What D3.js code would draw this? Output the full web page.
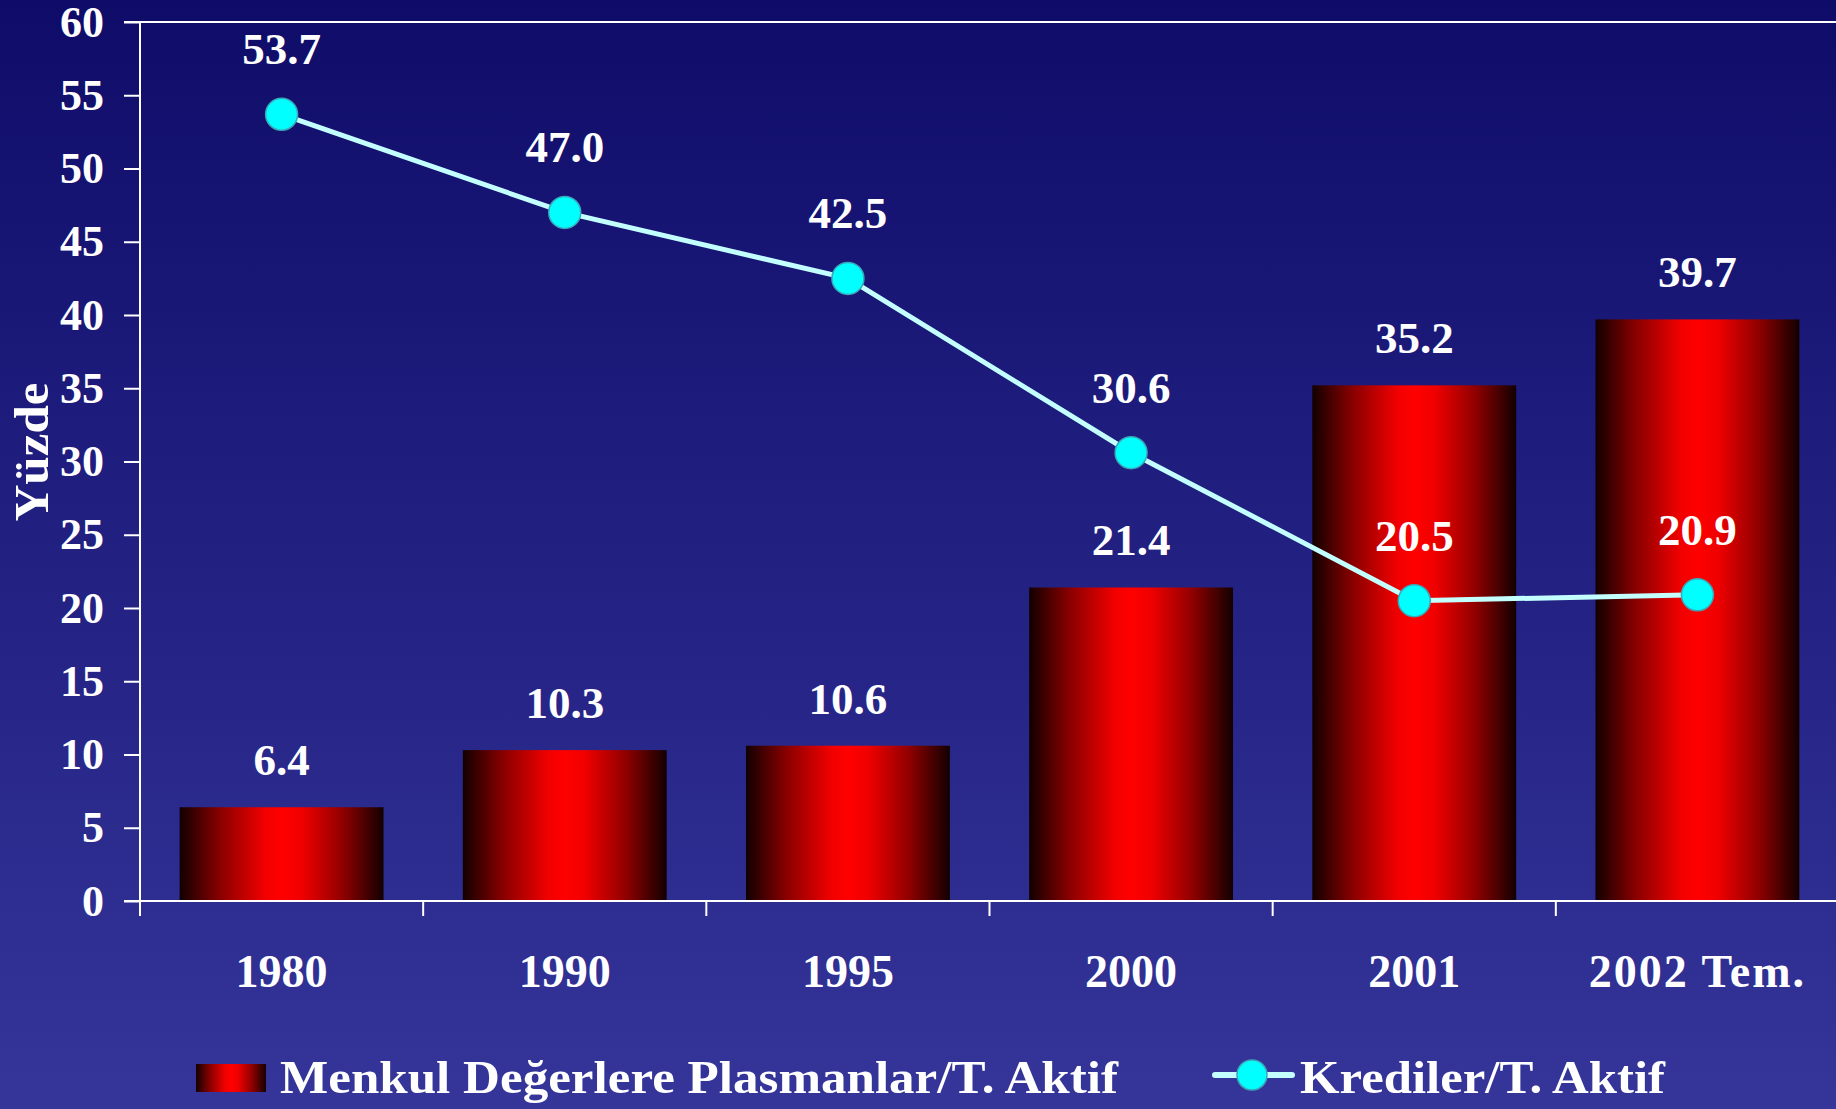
<!DOCTYPE html>
<html>
<head>
<meta charset="utf-8">
<script src="https://cdn.jsdelivr.net/npm/d3@7"></script>
<style>
  html, body { margin: 0; padding: 0; background: #22227f; }
  svg { display: block; }
  text { font-family: "Liberation Serif", "DejaVu Serif", serif; font-weight: bold; fill: #fff; }
</style>
</head>
<body>
<svg id="chart" width="1836" height="1109"></svg>
<script>
const categories = ['1980', '1990', '1995', '2000', '2001', '2002 Tem.'];
const menkulValues = [6.4, 10.3, 10.6, 21.4, 35.2, 39.7];
const kredilerValues = [53.7, 47.0, 42.5, 30.6, 20.5, 20.9];
const yTicks = [0, 5, 10, 15, 20, 25, 30, 35, 40, 45, 50, 55, 60];
const seriesNames = ['Menkul Değerlere Plasmanlar/T. Aktif', 'Krediler/T. Aktif'];
const yAxisLabel = 'Yüzde';

const svg = d3.select('#chart');
const width = +svg.attr('width');
const height = +svg.attr('height');
const margin = {top: 22, right: -3, left: 140, bottom: 208};
const innerBottom = height - margin.bottom;   // y of zero line

const defs = svg.append('defs');

// background fades from dark navy to lighter blue
const bg = defs.append('linearGradient').attr('id', 'bg')
    .attr('x1', 0).attr('y1', 0).attr('x2', 0).attr('y2', 1);
bg.append('stop').attr('offset', 0).attr('stop-color', '#0f0c69');
bg.append('stop').attr('offset', 1).attr('stop-color', '#35359a');

// cylinder-ish shading for the bars
const barGrad = defs.append('linearGradient').attr('id', 'barGrad')
    .attr('x1', 0).attr('y1', 0).attr('x2', 1).attr('y2', 0);
[[0, '#120000'], [0.2, '#8a0000'], [0.42, '#f20000'], [0.5, '#ff0000'],
 [0.6, '#f00000'], [0.8, '#900000'], [1, '#120000']].forEach(s => {
  barGrad.append('stop').attr('offset', s[0]).attr('stop-color', s[1]);
});

svg.append('rect').attr('width', width).attr('height', height).attr('fill', 'url(#bg)');

const x = d3.scaleBand()
    .domain(categories)
    .range([margin.left, width - margin.right])
    .padding(0);

const y = d3.scaleLinear()
    .domain([0, 60])
    .range([innerBottom, margin.top]);

const barW = x.bandwidth() * 0.72;

// bars
svg.append('g').selectAll('rect')
  .data(menkulValues)
  .enter().append('rect')
    .attr('x', (d, i) => x(categories[i]) + (x.bandwidth() - barW) / 2)
    .attr('y', d => y(d))
    .attr('width', barW)
    .attr('height', d => y(0) - y(d))
    .attr('fill', 'url(#barGrad)');

// frame lines
svg.append('line')
    .attr('x1', margin.left - 16).attr('x2', width)
    .attr('y1', y(60)).attr('y2', y(60))
    .attr('stroke', '#fff').attr('stroke-width', 2);
svg.append('line')
    .attr('x1', margin.left - 16).attr('x2', width)
    .attr('y1', y(0)).attr('y2', y(0))
    .attr('stroke', '#fff').attr('stroke-width', 2);

// y axis
const yAxisG = svg.append('g')
    .attr('transform', `translate(${margin.left},0)`)
    .call(d3.axisLeft(y).tickValues(yTicks).tickSize(16).tickSizeOuter(0).tickPadding(20));
yAxisG.selectAll('path, line').attr('stroke', '#fff').attr('stroke-width', 2);
yAxisG.selectAll('text')
    .attr('fill', '#fff')
    .style('font-size', '44px')
    .style('font-family', '"Liberation Serif", serif')
    .style('font-weight', 'bold');
yAxisG.select('.domain').remove();
svg.append('line')
    .attr('x1', margin.left).attr('x2', margin.left)
    .attr('y1', y(60)).attr('y2', y(0) + 15)
    .attr('stroke', '#fff').attr('stroke-width', 2);

svg.append('text')
    .attr('transform', 'translate(48, 452) rotate(-90)')
    .attr('text-anchor', 'middle')
    .attr('textLength', 139)
    .attr('lengthAdjust', 'spacingAndGlyphs')
    .style('font-size', '48px')
    .text(yAxisLabel);

// x axis: ticks at band edges, labels at centres
const edges = categories.map(c => x(c)).concat([x.range()[1]]);
svg.append('g').selectAll('line')
  .data(edges)
  .enter().append('line')
    .attr('x1', d => d).attr('x2', d => d)
    .attr('y1', y(0)).attr('y2', y(0) + 15)
    .attr('stroke', '#fff').attr('stroke-width', 2);

svg.append('g').selectAll('text')
  .data(categories)
  .enter().append('text')
    .attr('x', d => x(d) + x.bandwidth() / 2)
    .attr('y', y(0) + 86)
    .attr('text-anchor', 'middle')
    .style('font-size', '46px')
    .style('letter-spacing', d => d.length > 4 ? '2px' : '0px')
    .text(d => d);

// bar value labels
svg.append('g').selectAll('text')
  .data(menkulValues)
  .enter().append('text')
    .attr('x', (d, i) => x(categories[i]) + x.bandwidth() / 2)
    .attr('y', d => y(d) - 32)
    .attr('text-anchor', 'middle')
    .style('font-size', '45px')
    .text(d => d.toFixed(1));

// line series
const line = d3.line()
    .x((d, i) => x(categories[i]) + x.bandwidth() / 2)
    .y(d => y(d));

svg.append('path')
    .datum(kredilerValues)
    .attr('d', line)
    .attr('fill', 'none')
    .attr('stroke', '#c4ffff')
    .attr('stroke-width', 5);

svg.append('g').selectAll('circle')
  .data(kredilerValues)
  .enter().append('circle')
    .attr('cx', (d, i) => x(categories[i]) + x.bandwidth() / 2)
    .attr('cy', d => y(d))
    .attr('r', 16)
    .attr('fill', '#00ffff')
    .attr('stroke', '#3aa7b8')
    .attr('stroke-width', 1.5);

svg.append('g').selectAll('text')
  .data(kredilerValues)
  .enter().append('text')
    .attr('x', (d, i) => x(categories[i]) + x.bandwidth() / 2)
    .attr('y', d => y(d) - 50)
    .attr('text-anchor', 'middle')
    .style('font-size', '45px')
    .text(d => d.toFixed(1));

// legend
const legend = svg.append('g');
legend.append('rect')
    .attr('x', 196).attr('y', 1064)
    .attr('width', 70).attr('height', 28)
    .attr('fill', 'url(#barGrad)');
legend.append('text')
    .attr('x', 280).attr('y', 1093)
    .attr('textLength', 838)
    .attr('lengthAdjust', 'spacingAndGlyphs')
    .style('font-size', '47px')
    .text(seriesNames[0]);
legend.append('line')
    .attr('x1', 1215).attr('x2', 1292)
    .attr('y1', 1075).attr('y2', 1075)
    .attr('stroke', '#c4ffff').attr('stroke-width', 6)
    .attr('stroke-linecap', 'round');
legend.append('circle')
    .attr('cx', 1252).attr('cy', 1075).attr('r', 15)
    .attr('fill', '#00ffff')
    .attr('stroke', '#3aa7b8').attr('stroke-width', 1.5);
legend.append('text')
    .attr('x', 1300).attr('y', 1093)
    .attr('textLength', 365)
    .attr('lengthAdjust', 'spacingAndGlyphs')
    .style('font-size', '47px')
    .text(seriesNames[1]);
</script>
</body>
</html>
